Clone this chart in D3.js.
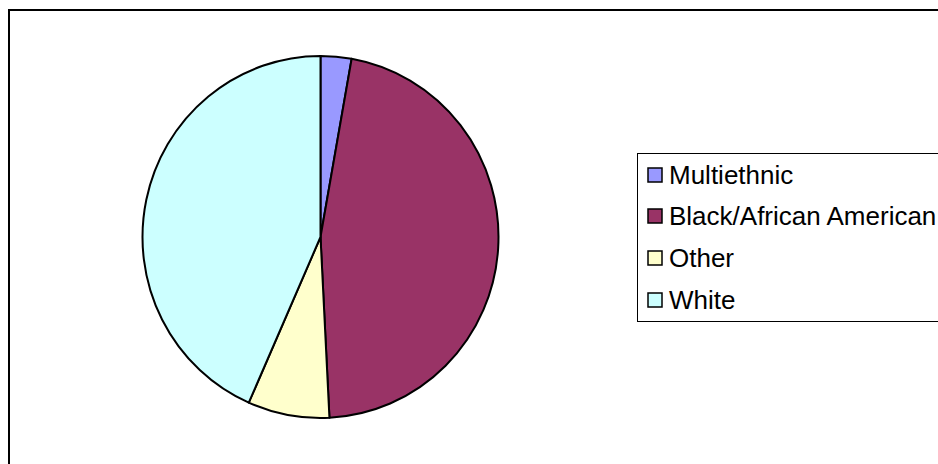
<!DOCTYPE html>
<html><head><meta charset="utf-8">
<script src="https://cdn.jsdelivr.net/npm/d3@7"></script>
<style>html,body{margin:0;padding:0;background:#fff;}svg{display:block;}</style>
</head><body>
<script>
const categories = ["Multiethnic", "Black/African American", "Other", "White"];
const values = [2.8, 46.4, 7.4, 43.4];
const colors = ["#9999FF", "#993366", "#FFFFCC", "#CCFFFF"];

const W = 938, H = 464;
const svg = d3.select("body").append("svg").attr("width", W).attr("height", H);
svg.append("rect").attr("width", W).attr("height", H).attr("fill", "#fff");

// outer chart border
svg.append("rect").attr("x", 9).attr("y", 10).attr("width", W).attr("height", H)
  .attr("fill", "none").attr("stroke", "#000").attr("stroke-width", 2);

const cx = 320.5, cy = 237, r = 178, sy = 181 / 178;
const pie = d3.pie().sort(null).value(d => d)(values);
const arc = d3.arc().innerRadius(0).outerRadius(r);
const g = svg.append("g").attr("transform", `translate(${cx},${cy}) scale(1,${sy})`);
g.selectAll("path").data(pie).join("path")
  .attr("d", arc)
  .attr("fill", (d, i) => colors[i])
  .attr("stroke", "#000").attr("stroke-width", 2).attr("stroke-linejoin", "round");

// legend
const lg = svg.append("g");
lg.append("rect").attr("x", 637.5).attr("y", 153.5).attr("width", 320).attr("height", 168)
  .attr("fill", "#fff").attr("stroke", "#000").attr("stroke-width", 1);
const ys = [175, 216, 258, 300];
categories.forEach((c, i) => {
  lg.append("rect").attr("x", 648).attr("y", ys[i] - 7).attr("width", 14).attr("height", 14)
    .attr("fill", colors[i]).attr("stroke", "#000").attr("stroke-width", 1.5);
  lg.append("text").attr("x", 669).attr("y", ys[i]).attr("dy", "0.36em")
    .attr("font-family", "Liberation Sans, Arial, sans-serif").attr("font-size", 26)
    .attr("fill", "#000").text(c);
});
</script>
</body></html>
